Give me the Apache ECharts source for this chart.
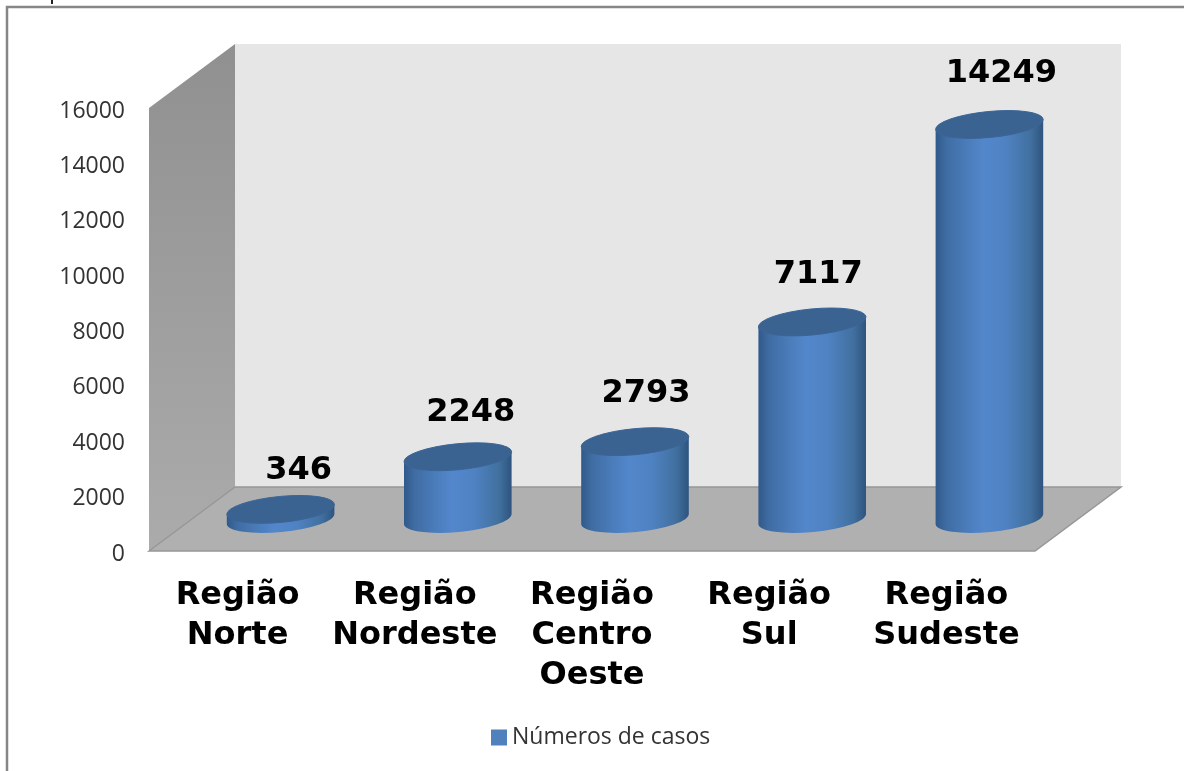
<!DOCTYPE html>
<html>
<head>
<meta charset="utf-8">
<title>Números de casos por região</title>
<script src="https://cdn.jsdelivr.net/npm/echarts@6/dist/echarts.min.js"></script>
<style>
  html, body { margin: 0; padding: 0; background: #fff; }
  #main { width: 1184px; height: 771px; }
</style>
</head>
<body>
<div id="main"></div>
<script>
var categories = ['Região\nNorte', 'Região\nNordeste', 'Região\nCentro\nOeste', 'Região\nSul', 'Região\nSudeste'];
var casos = [346, 2248, 2793, 7117, 14249];
var yTicks = { min: 0, max: 16000, interval: 2000 };
// hand placed value labels in the original, offset from top of each cylinder
var labelDx = [18, 13, 11, 6, 12];
var labelDy = [-39, -44, -48, -47, -51];

var serieName = 'Números de casos';

// 3d look
var depthX = 86, depthY = -64;     // back wall offset from the front plane
var barDx = 43, barDy = -32;       // cylinders stand in the middle of the floor
var barRatio = 0.61;
var tilt = -5.5;                   // degrees, ellipses lean up to the right
var ellipseRy = 13;

var myChart = echarts.init(document.getElementById('main'));

function renderWalls(params, api) {
    var c = params.coordSys;
    var l = c.x, r = c.x + c.width, t = c.y, b = c.y + c.height;
    return {
        type: 'group',
        children: [
            // back wall
            { type: 'polygon', shape: { points: [[l + depthX, t + depthY], [r + depthX, t + depthY], [r + depthX, b + depthY], [l + depthX, b + depthY]] },
              style: { fill: '#e6e6e6' } },
            // left wall
            { type: 'polygon', shape: { points: [[l, t], [l + depthX, t + depthY], [l + depthX, b + depthY], [l, b]] },
              style: { fill: new echarts.graphic.LinearGradient(0, 0, 0, 1, [
                  { offset: 0, color: '#909090' }, { offset: 1, color: '#ababab' }]) } },
            // floor
            { type: 'polygon', shape: { points: [[l, b], [l + depthX, b + depthY], [r + depthX, b + depthY], [r, b]] },
              style: { fill: '#b0b0b0', stroke: '#979797', lineWidth: 1.5 } }
        ]
    };
}

function renderCylinder(params, api) {
    var i = api.value(0), v = api.value(1);
    var top = api.coord([i, v]);
    var base = api.coord([i, 0]);
    var rx = api.size([1, 0])[0] * barRatio / 2;
    var rad = tilt * Math.PI / 180;
    var ex = rx * Math.cos(rad), ey = rx * Math.sin(rad);
    var cx = top[0] + barDx, ty = top[1] + barDy, by = base[1] + barDy;
    var arc = 'A' + rx + ' ' + ellipseRy + ' ' + tilt;

    var body = 'M' + (cx - ex) + ' ' + (by - ey) +
        arc + ' 0 0 ' + (cx + ex) + ' ' + (by + ey) +
        'L' + (cx + ex) + ' ' + (ty + ey) +
        'L' + (cx - ex) + ' ' + (ty - ey) + 'Z';
    var lid = 'M' + (cx - ex) + ' ' + (ty - ey) +
        arc + ' 1 1 ' + (cx + ex) + ' ' + (ty + ey) +
        arc + ' 1 1 ' + (cx - ex) + ' ' + (ty - ey) + 'Z';

    return {
        type: 'group',
        children: [
            { type: 'path', shape: { pathData: body },
              style: { fill: new echarts.graphic.LinearGradient(0, 0, 1, 0, [
                  { offset: 0, color: '#30598a' },
                  { offset: 0.1, color: '#3f6ca2' },
                  { offset: 0.3, color: '#4b7dbc' },
                  { offset: 0.45, color: '#5387cc' },
                  { offset: 0.65, color: '#4f82c2' },
                  { offset: 0.88, color: '#41709f' },
                  { offset: 1, color: '#2e537e' }]) } },
            { type: 'path', shape: { pathData: lid },
              style: { fill: '#3b6392', stroke: '#3b6596', lineWidth: 1 } },
            { type: 'text',
              style: { text: String(v), x: cx + labelDx[i], y: ty + labelDy[i],
                       align: 'center', verticalAlign: 'middle',
                       font: 'bold 32px "DejaVu Sans"', fill: '#000' } }
        ]
    };
}

var option = {
    animation: false,
    backgroundColor: '#fff',
    grid: { left: 149, top: 108, width: 886, height: 443, containLabel: false },
    legend: {
        data: [serieName],
        left: 486, top: 721,
        itemWidth: 16, itemHeight: 16, itemGap: 7,
        icon: 'rect',
        textStyle: { fontFamily: '"Open Sans"', fontSize: 23, color: '#333' }
    },
    xAxis: {
        type: 'category',
        data: categories,
        axisLine: { show: false },
        axisTick: { show: false },
        axisLabel: {
            interval: 0, margin: 25,
            fontFamily: '"DejaVu Sans"', fontWeight: 'bold', fontSize: 32,
            lineHeight: 40, color: '#000'
        }
    },
    yAxis: {
        type: 'value',
        min: yTicks.min, max: yTicks.max, interval: yTicks.interval,
        axisLine: { show: false },
        axisTick: { show: false },
        splitLine: { show: false },
        axisLabel: {
            margin: 24, fontFamily: '"Open Sans"', fontSize: 23, color: '#333',
            verticalAlign: 'top', lineHeight: 6,
            formatter: function (v) { return String(v); }
        }
    },
    graphic: [
        // frame of the pasted chart, only left and top are in the picture
        { type: 'polyline', z: 100, shape: { points: [[7, 771], [7, 7], [1184, 7]] },
          style: { stroke: '#868686', lineWidth: 2.5, fill: null } },
        // descender of the cropped line above
        { type: 'rect', z: 100, shape: { x: 51, y: 0, width: 2, height: 4 }, style: { fill: '#222' } }
    ],
    series: [
        { name: 'paredes', type: 'custom', renderItem: renderWalls, data: [[0, 0]], z: 1, silent: true },
        { name: serieName, type: 'custom', renderItem: renderCylinder, z: 2,
          itemStyle: { color: '#4f81bd', borderColor: '#3b6392' },
          encode: { x: 0, y: 1 },
          data: casos.map(function (v, i) { return [i, v]; }) }
    ]
};

myChart.setOption(option);
</script>
</body>
</html>
